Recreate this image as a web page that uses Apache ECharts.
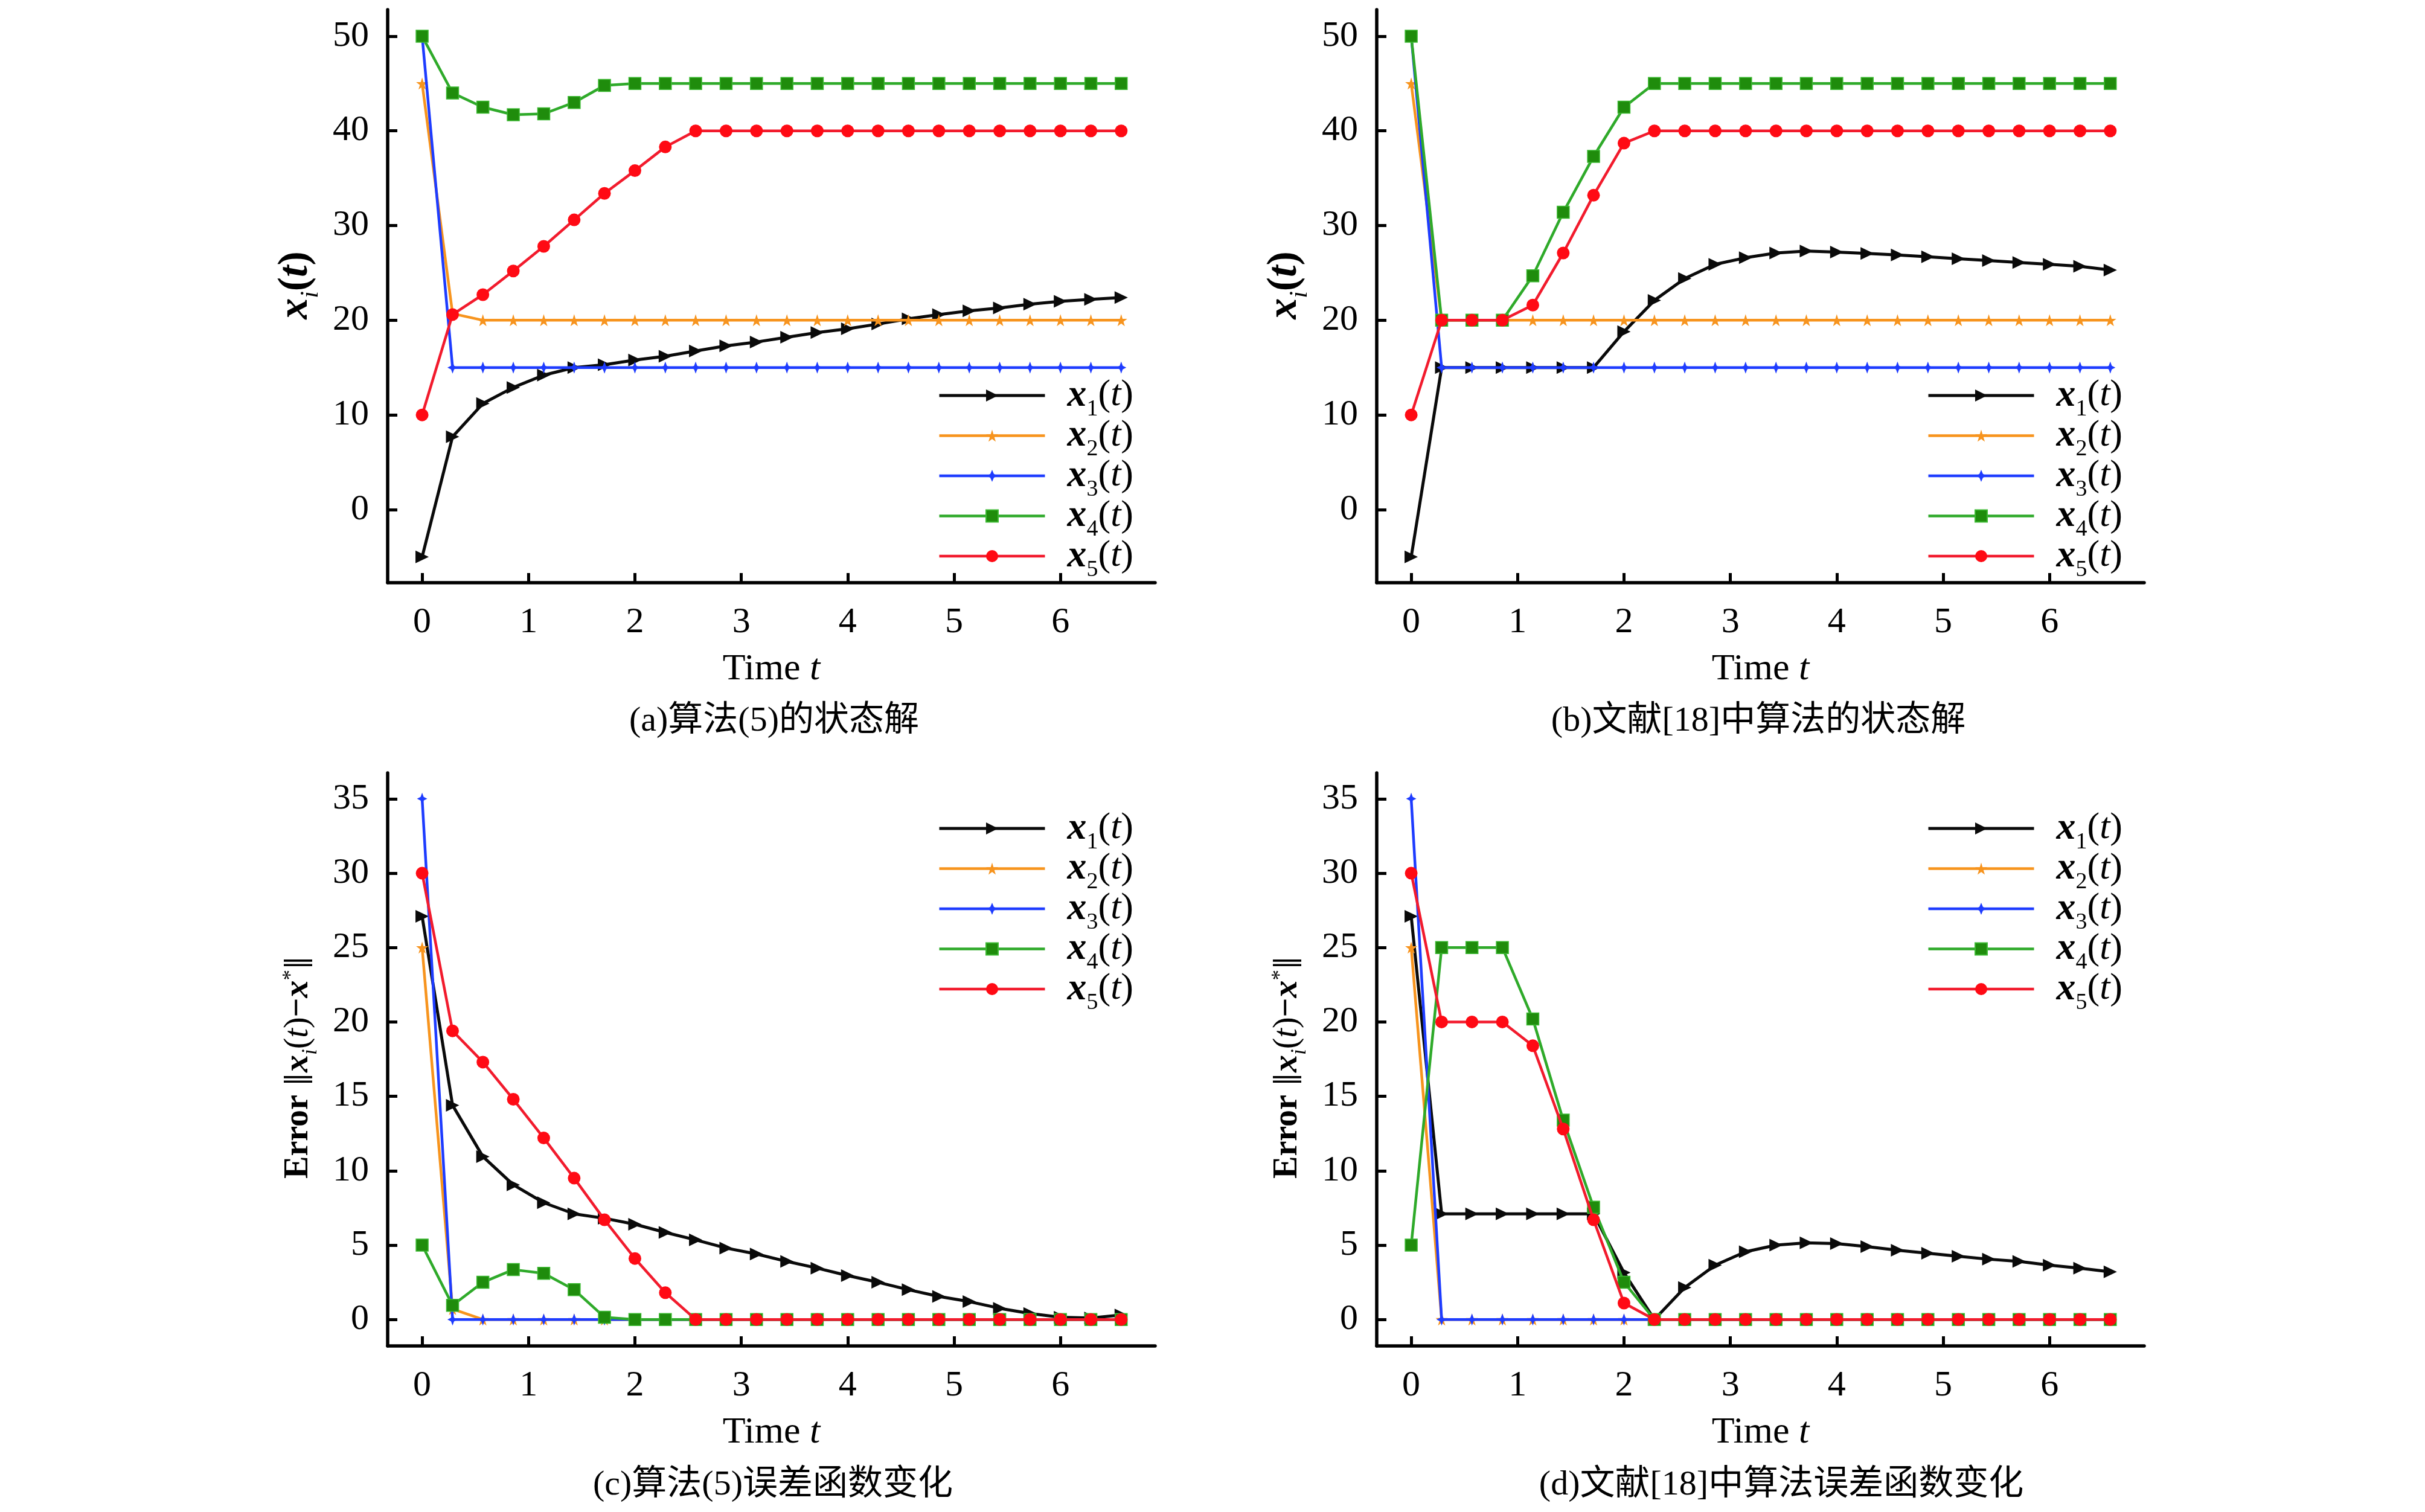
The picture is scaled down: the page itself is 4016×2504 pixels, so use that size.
<!DOCTYPE html>
<html><head><meta charset="utf-8">
<script src="https://cdn.jsdelivr.net/npm/echarts@6/dist/echarts.min.js"></script>
<style>html,body{margin:0;padding:0;background:#fff}#c{width:4016px;height:2504px}</style>
</head><body><div id="c"></div>
<script>
// ---------- data ----------
const tValues = [0, 0.286, 0.571, 0.857, 1.143, 1.429, 1.714, 2.0, 2.286, 2.571, 2.857, 3.143,
  3.429, 3.714, 4.0, 4.286, 4.571, 4.857, 5.143, 5.429, 5.714, 6.0, 6.286, 6.571];
const seriesNames = ['x1', 'x2', 'x3', 'x4', 'x5'];
const xTicks = [0, 1, 2, 3, 4, 5, 6];
const yTicksState = [0, 10, 20, 30, 40, 50];
const yTicksError = [0, 5, 10, 15, 20, 25, 30, 35];

// (a) state, algorithm (5)
const a1 = [-5.0, 7.7, 11.2, 12.9, 14.2, 15.0, 15.3, 15.8, 16.2, 16.75, 17.3, 17.7, 18.2, 18.7, 19.1, 19.6, 20.15, 20.6, 21.0, 21.3, 21.7, 22.0, 22.2, 22.4];
const a2 = [45, 20.7, 20, 20, 20, 20, 20, 20, 20, 20, 20, 20, 20, 20, 20, 20, 20, 20, 20, 20, 20, 20, 20, 20];
const a3 = [50, 15, 15, 15, 15, 15, 15, 15, 15, 15, 15, 15, 15, 15, 15, 15, 15, 15, 15, 15, 15, 15, 15, 15];
const a4 = [50, 44.0, 42.5, 41.7, 41.8, 43.0, 44.8, 45, 45, 45, 45, 45, 45, 45, 45, 45, 45, 45, 45, 45, 45, 45, 45, 45];
const a5 = [10, 20.6, 22.7, 25.2, 27.8, 30.6, 33.4, 35.8, 38.3, 40, 40, 40, 40, 40, 40, 40, 40, 40, 40, 40, 40, 40, 40, 40];
// (b) state, reference [18]
const b1 = [-5, 15, 15, 15, 15, 15, 15, 18.8, 22.1, 24.4, 25.9, 26.6, 27.1, 27.3, 27.2, 27.05, 26.9, 26.7, 26.5, 26.3, 26.1, 25.9, 25.7, 25.3];
const b2 = [45, 20, 20, 20, 20, 20, 20, 20, 20, 20, 20, 20, 20, 20, 20, 20, 20, 20, 20, 20, 20, 20, 20, 20];
const b3 = [50, 15, 15, 15, 15, 15, 15, 15, 15, 15, 15, 15, 15, 15, 15, 15, 15, 15, 15, 15, 15, 15, 15, 15];
const b4 = [50, 20, 20, 20, 24.7, 31.4, 37.3, 42.5, 45, 45, 45, 45, 45, 45, 45, 45, 45, 45, 45, 45, 45, 45, 45, 45];
const b5 = [10, 20, 20, 20, 21.6, 27.1, 33.2, 38.7, 40, 40, 40, 40, 40, 40, 40, 40, 40, 40, 40, 40, 40, 40, 40, 40];
// (c) error, algorithm (5)
const c1 = [27.1, 14.4, 10.95, 9.05, 7.85, 7.1, 6.8, 6.4, 5.85, 5.35, 4.8, 4.4, 3.9, 3.45, 2.95, 2.5, 2.0, 1.55, 1.2, 0.75, 0.4, 0.15, 0.1, 0.3];
const c2 = [25, 0.7, 0, 0, 0, 0, 0, 0, 0, 0, 0, 0, 0, 0, 0, 0, 0, 0, 0, 0, 0, 0, 0, 0];
const c3 = [35, 0, 0, 0, 0, 0, 0, 0, 0, 0, 0, 0, 0, 0, 0, 0, 0, 0, 0, 0, 0, 0, 0, 0];
const c4 = [5, 0.95, 2.5, 3.35, 3.1, 2.0, 0.15, 0, 0, 0, 0, 0, 0, 0, 0, 0, 0, 0, 0, 0, 0, 0, 0, 0];
const c5 = [30, 19.4, 17.3, 14.8, 12.2, 9.5, 6.7, 4.1, 1.8, 0, 0, 0, 0, 0, 0, 0, 0, 0, 0, 0, 0, 0, 0, 0];
// (d) error, reference [18]
const d1 = [27.1, 7.1, 7.1, 7.1, 7.1, 7.1, 7.1, 3.15, 0, 2.15, 3.65, 4.55, 5.0, 5.15, 5.1, 4.9, 4.65, 4.45, 4.25, 4.05, 3.9, 3.65, 3.45, 3.2];
const d2 = [25, 0, 0, 0, 0, 0, 0, 0, 0, 0, 0, 0, 0, 0, 0, 0, 0, 0, 0, 0, 0, 0, 0, 0];
const d3 = [35, 0, 0, 0, 0, 0, 0, 0, 0, 0, 0, 0, 0, 0, 0, 0, 0, 0, 0, 0, 0, 0, 0, 0];
const d4 = [5, 25, 25, 25, 20.2, 13.4, 7.55, 2.5, 0, 0, 0, 0, 0, 0, 0, 0, 0, 0, 0, 0, 0, 0, 0, 0];
const d5 = [30, 20, 20, 20, 18.4, 12.8, 6.7, 1.1, 0, 0, 0, 0, 0, 0, 0, 0, 0, 0, 0, 0, 0, 0, 0, 0];

const captions = ['(a)算法(5)的状态解', '(b)文献[18]中算法的状态解', '(c)算法(5)误差函数变化', '(d)文献[18]中算法误差函数变化'];

// ---------- styles ----------
const SERIF = "'Liberation Serif', 'DejaVu Serif', serif";
const CAPFONT = "'Liberation Serif', 'Noto Sans CJK SC', serif";
const styles = [
  {color: '#0a0a0a', mark: '#0a0a0a', border: '#0a0a0a', width: 5, symbol: 'path://M0,0 L10,5 L0,10 Z', size: [22, 21]},
  {color: '#F7941E', mark: '#F7941E', border: '#F7941E', width: 4.5, symbol: 'path://M50,0 L61,35 L98,35 L68,57 L79,91 L50,70 L21,91 L32,57 L2,35 L39,35 Z', size: [20, 20]},
  {color: '#1E3CFF', mark: '#1E3CFF', border: '#1E3CFF', width: 4.5, symbol: 'path://M5,0 L6.5,3.5 L10,5 L6.5,6.5 L5,10 L3.5,6.5 L0,5 L3.5,3.5 Z', size: [17, 20]},
  {color: '#2FAA2A', mark: '#1F8C0C', border: '#3DBA33', width: 4.5, symbol: 'rect', size: [20, 20]},
  {color: '#F21B2D', mark: '#FF0A14', border: '#F21B2D', width: 4.5, symbol: 'circle', size: [21, 21]}
];

const panels = [
  {left: 642, top: 16, vals: [a1, a2, a3, a4, a5], ymin: -7.72, ymax: 52.8, yt: yTicksState, name: 'state', legTop: 623},
  {left: 2280, top: 16, vals: [b1, b2, b3, b4, b5], ymin: -7.72, ymax: 52.8, yt: yTicksState, name: 'state', legTop: 623},
  {left: 642, top: 1280, vals: [c1, c2, c3, c4, c5], ymin: -1.78, ymax: 36.74, yt: yTicksError, name: 'error', legTop: 1340},
  {left: 2280, top: 1280, vals: [d1, d2, d3, d4, d5], ymin: -1.78, ymax: 36.74, yt: yTicksError, name: 'error', legTop: 1340}
];
const GW = 1271, GH = 949;

const richState = {
  xb: {fontFamily: SERIF, fontSize: 70, fontWeight: 'bold', fontStyle: 'italic', lineHeight: 70, color: '#000'},
  sb: {fontFamily: SERIF, fontSize: 42, fontStyle: 'italic', lineHeight: 12, height: 20, verticalAlign: 'bottom', color: '#000'},
  pb: {fontFamily: SERIF, fontSize: 70, fontWeight: 'bold', lineHeight: 70, color: '#000'},
  tb: {fontFamily: SERIF, fontSize: 70, fontWeight: 'bold', fontStyle: 'italic', lineHeight: 70, color: '#000'}
};
const richError = {
  eb: {fontFamily: SERIF, fontSize: 56, fontWeight: 'bold', lineHeight: 59, color: '#000'},
  nb: {fontFamily: 'DejaVu Serif', fontSize: 46, lineHeight: 59, color: '#000'},
  xb: {fontFamily: SERIF, fontSize: 58, fontWeight: 'bold', fontStyle: 'italic', lineHeight: 59, color: '#000'},
  sb: {fontFamily: SERIF, fontSize: 35, fontStyle: 'italic', lineHeight: 12, height: 18, verticalAlign: 'bottom', color: '#000'},
  sup: {fontFamily: SERIF, fontSize: 35, lineHeight: 24, verticalAlign: 'top', color: '#000'},
  p: {fontFamily: SERIF, fontSize: 56, lineHeight: 59, color: '#000'},
  t: {fontFamily: SERIF, fontSize: 56, fontStyle: 'italic', lineHeight: 59, color: '#000'},
  mb: {fontFamily: SERIF, fontSize: 56, fontWeight: 'bold', lineHeight: 59, color: '#000'}
};
const yNameState = '{xb|x}{sb|i}{pb|(}{tb|t}{pb|)}';
const yNameError = '{eb|Error }{nb|‖}{xb|x}{sb|i}{p|(}{t|t}{p|)}{mb|−}{xb|x}{sup|*}{nb|‖}';

const grid = [], xAxis = [], yAxis = [], series = [], legend = [], graphic = [];
panels.forEach((P, p) => {
  const isState = P.name === 'state';
  grid.push({left: P.left, top: P.top, width: GW, height: GH, containLabel: false});
  xAxis.push({
    type: 'value', gridIndex: p, min: -0.324, max: 6.89,
    name: '{n|Time }{t|t}', nameLocation: 'middle', nameGap: 112,
    nameTextStyle: {rich: {n: {fontFamily: SERIF, fontSize: 62, lineHeight: 64, color: '#000'}, t: {fontFamily: SERIF, fontSize: 62, fontStyle: 'italic', lineHeight: 64, color: '#000'}}},
    axisLine: {show: true, onZero: false, lineStyle: {color: '#000', width: 5.5}},
    axisTick: {show: true, inside: true, length: 16, customValues: xTicks, lineStyle: {color: '#000', width: 5}},
    axisLabel: {show: true, margin: 36, customValues: xTicks, fontFamily: SERIF, fontSize: 60, color: '#000'},
    splitLine: {show: false}
  });
  yAxis.push({
    type: 'value', gridIndex: p, min: P.ymin, max: P.ymax,
    name: isState ? yNameState : yNameError,
    nameLocation: 'middle', nameGap: isState ? 117 : 118, nameRotate: 90,
    nameTextStyle: {color: '#000', rich: isState ? richState : richError, padding: isState ? [0, 0, 0, 36] : [0, 26, 0, 0]},
    axisLine: {show: true, onZero: false, lineStyle: {color: '#000', width: 5.5}},
    axisTick: {show: true, inside: true, length: 16, customValues: P.yt, lineStyle: {color: '#000', width: 5}},
    axisLabel: {show: true, margin: 31, customValues: P.yt, fontFamily: SERIF, fontSize: 60, color: '#000'},
    splitLine: {show: false}
  });
  P.vals.forEach((vals, i) => {
    const s = styles[i];
    series.push({
      type: 'line', name: seriesNames[i], xAxisIndex: p, yAxisIndex: p,
      data: tValues.map((t, k) => [t, vals[k]]),
      symbol: s.symbol, symbolSize: s.size, showAllSymbol: true,
      lineStyle: {color: s.color, width: s.width},
      itemStyle: {color: s.mark, borderColor: s.border, borderWidth: i === 3 ? 1.5 : 0},
      emphasis: {disabled: true}, animation: false, z: 2 + i
    });
  });
  legend.push({
    orient: 'vertical', left: P.left + 911, top: P.legTop,
    padding: 0, itemGap: -7.5, itemWidth: 175, itemHeight: 25,
    data: seriesNames.map((n, i) => ({name: n, lineStyle: {width: styles[i].width, color: styles[i].color}})),
    selectedMode: false,
    formatter: n => '{x|x}{s|' + n.slice(1) + '}{p|(}{t|t}{p|)}',
    textStyle: {padding: [0, 0, 0, 32], color: '#000', rich: {
      x: {fontFamily: SERIF, fontSize: 64, fontWeight: 'bold', fontStyle: 'italic', lineHeight: 60, color: '#000'},
      s: {fontFamily: SERIF, fontSize: 38, lineHeight: 12, height: 14, verticalAlign: 'bottom', color: '#000'},
      p: {fontFamily: SERIF, fontSize: 62, lineHeight: 60, color: '#000'},
      t: {fontFamily: SERIF, fontSize: 62, fontStyle: 'italic', lineHeight: 60, color: '#000'}
    }}
  });
});
const capPos = [[1282, 1195], [2912, 1195], [1280, 2460], [2950, 2460]];
captions.forEach((txt, i) => {
  graphic.push({type: 'text', x: capPos[i][0], y: capPos[i][1], silent: true,
    style: {text: txt, fontFamily: CAPFONT, fontSize: 58, fill: '#000', textAlign: 'center', textVerticalAlign: 'middle'}});
});

const chart = echarts.init(document.getElementById('c'), null, {renderer: 'canvas'});
chart.setOption({backgroundColor: '#fff', animation: false, grid, xAxis, yAxis, series, legend, graphic});
</script>
</body></html>
